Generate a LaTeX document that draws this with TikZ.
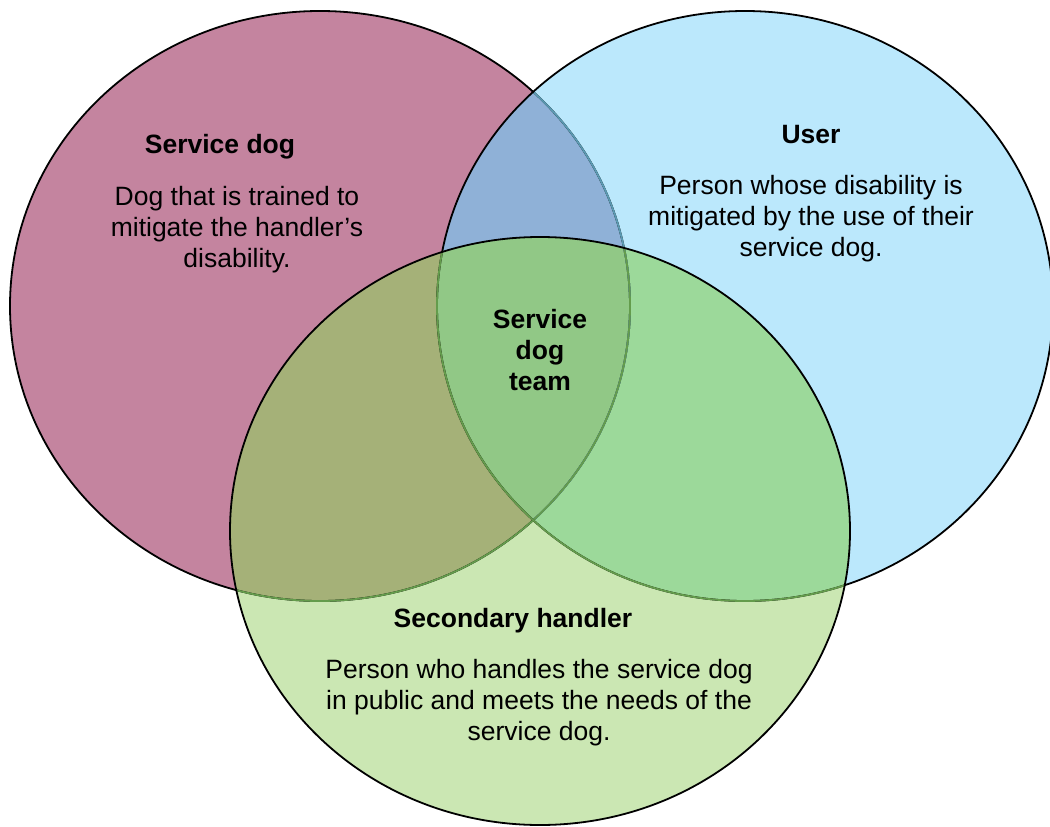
\documentclass[tikz,border=0pt]{standalone}
\usepackage{fontspec}
\setmainfont{Liberation Sans}

\definecolor{dogfill}{HTML}{C4849F}
\definecolor{userfill}{HTML}{BBE8FC}
\definecolor{handlerfill}{HTML}{CBE7B3}
\definecolor{doguser}{HTML}{8FB1D7}
\definecolor{doghandler}{HTML}{A5B178}
\definecolor{userhandler}{HTML}{9CD99A}
\definecolor{teamfill}{HTML}{91C886}
\definecolor{bluish}{HTML}{5B9AB2}
\definecolor{greenish}{HTML}{649C4C}

% the three sets
\def\dogset{(320,306) ellipse [x radius=310, y radius=295]}
\def\userset{(745,306) ellipse [x radius=308, y radius=295]}
\def\handlerset{(540,531) ellipse [x radius=310, y radius=294]}

\begin{document}
\begin{tikzpicture}[x=1pt,y=-1pt,line width=1.8pt,
    bodytext/.style={font=\fontsize{26.5}{31}\selectfont, align=center, inner sep=0pt, anchor=base},
    headtext/.style={bodytext, font=\fontsize{26.5}{31}\selectfont\bfseries}]

    \useasboundingbox (0,0) rectangle (1050,827);

    % fills
    \fill [dogfill] \dogset;
    \fill [userfill] \userset;
    \fill [handlerfill] \handlerset;
    \begin{scope}
        \clip \userset;
        \fill [userhandler] \handlerset;
    \end{scope}
    \begin{scope}
        \clip \dogset;
        \fill [doguser] \userset;
        \fill [doghandler] \handlerset;
        \clip \userset;
        \fill [teamfill] \handlerset;
    \end{scope}

    % outlines
    \draw \dogset;
    \begin{scope}
        \clip \userset;
        \draw [bluish] \dogset;
    \end{scope}
    \begin{scope}
        \clip \handlerset;
        \draw [greenish] \dogset;
    \end{scope}
    \draw \userset;
    \begin{scope}
        \clip \handlerset;
        \draw [greenish] \userset;
    \end{scope}
    \draw \handlerset;

    % texts (base = last line)
    \node [headtext] (dog) at (220,153) {Service dog};
    \node [bodytext] (dogtext) at (237,267) {Dog that is trained to\\mitigate the handler’s\\disability.};

    \node [headtext] (user) at (811,143) {User};
    \node [bodytext] (usertext) at (811,256) {Person whose disability is\\mitigated by the use of their\\service dog.};

    \node [headtext] (team) at (540,390) {Service\\dog\\team};

    \node [headtext] (handler) at (513,627) {Secondary handler};
    \node [bodytext] (handlertext) at (539,740) {Person who handles the service dog\\in public and meets the needs of the\\service dog.};
\end{tikzpicture}
\end{document}
